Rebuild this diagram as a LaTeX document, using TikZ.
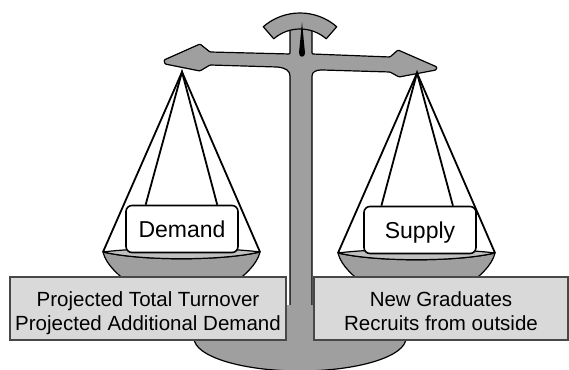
\documentclass[tikz,border=0pt]{standalone}
\usepackage{fontspec}
\setmainfont{Liberation Sans}
\usetikzlibrary{calc}

\definecolor{beamgray}{RGB}{160,159,160}
\definecolor{rimgray}{RGB}{192,192,192}
\definecolor{listfill}{RGB}{217,217,217}
\definecolor{listedge}{RGB}{72,72,72}

\begin{document}
\begin{tikzpicture}[x=1pt, y=1pt,
  metal/.style={fill=beamgray, draw=black, line width=1.2pt, line join=round},
  rope/.style={draw=black, line width=1.8pt},
  tray/.style={rectangle, rounded corners=6pt, draw=black, line width=1.6pt, fill=white,
               minimum width=112pt, minimum height=47pt, inner sep=0pt,
               text height=16.5pt, text depth=0pt, font=\fontsize{23}{27}\selectfont},
  list/.style={rectangle, draw=listedge, line width=2pt, fill=listfill,
               minimum height=63pt, inner sep=0pt, align=center,
               text height=47.7pt, text depth=4.3pt,
               font=\fontsize{20.5}{24}\selectfont}
]
\useasboundingbox (0,0) rectangle (569,369);

% beam and column
\draw[metal, rounded corners=1pt] (290,344) -- (290,315) -- (210,317) -- (200,325)
  -- (164,309) -- (165,305) -- (200,298) -- (210,304) -- (277,302)
  .. controls (286,301) and (290,298) .. (290,292) -- (290,40) -- (312,40)
  -- (312,292) .. controls (312,297) and (316,299) .. (322,299) -- (390,297)
  -- (399,292) -- (436,299) -- (437,302) -- (398,319) -- (390,312)
  -- (312,315) -- (312,344) -- cycle;

% foot
\fill[beamgray] (300,31) ellipse [x radius=106, y radius=33];
\draw[line width=1.2pt] (194,31) arc[start angle=180, end angle=360, x radius=106, y radius=33];

% dial and pointer
\coordinate (pivot) at (300,300);
\draw[metal] ($(pivot)+(49:56)$) arc[start angle=49, end angle=131, radius=56]
  -- ($(pivot)+(131:40)$) arc[start angle=131, end angle=49, radius=40] -- cycle;
\fill (302,347) -- (305,316) .. controls (305,311) and (299,311) .. (299,316) -- cycle;

% the two pans
\foreach \cx/\cy in {181.5/117, 416.5/116} {
  \draw[metal] (\cx-78.5,\cy) .. controls (\cx-75.5,\cy-13) and (\cx-61.5,\cy-25) .. (\cx-49.5,\cy-33)
    -- (\cx+49.5,\cy-33) .. controls (\cx+61.5,\cy-25) and (\cx+75.5,\cy-13) .. (\cx+78.5,\cy)
    .. controls (\cx+40,\cy-9) and (\cx-40,\cy-9) .. cycle;
  \draw[metal, fill=rimgray] (\cx-78.5,\cy) .. controls (\cx-40,\cy-9) and (\cx+40,\cy-9) .. (\cx+78.5,\cy)
    .. controls (\cx+40,\cy+5) and (\cx-40,\cy+5) .. cycle;
}

\coordinate (lhook) at (182,297);
\coordinate (rhook) at (417,296);
\coordinate (lrimW) at (103,117);
\coordinate (lrimE) at (260,117);
\coordinate (rrimW) at (338,116);
\coordinate (rrimE) at (495,116);

\node[tray] (demand) at (182,140) {Demand};
\node[tray] (supply) at (420,139) {Supply};

% strings
\draw[rope] (lrimW) -- (lhook) -- (lrimE);
\draw[rope] ($(demand.north west)!0.18!(demand.north east)$) -- (lhook)
  -- ($(demand.north west)!0.81!(demand.north east)$);
\draw[rope] (rrimW) -- (rhook) -- (rrimE);
\draw[rope] ($(supply.north west)!0.16!(supply.north east)$) -- (rhook)
  -- ($(supply.north west)!0.79!(supply.north east)$);

\node[list, minimum width=276pt] (needs) at (148,60.5)
  {Projected Total Turnover\\Projected Additional Demand};
\node[list, minimum width=254pt] (sources) at (441,60.5)
  {New Graduates\\Recruits from outside};
\end{tikzpicture}
\end{document}
